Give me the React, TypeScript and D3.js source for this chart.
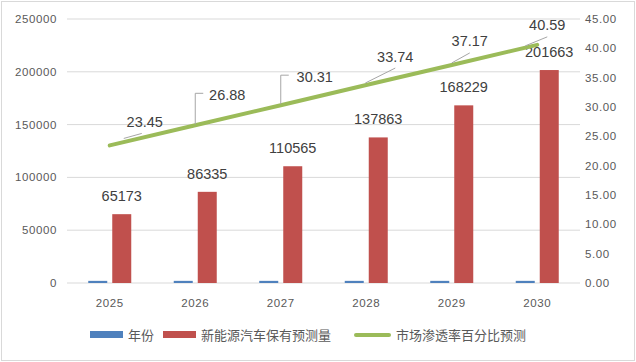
import React from 'react'
import * as d3 from 'd3'

const years = ['2025', '2026', '2027', '2028', '2029', '2030']
const yearValues = [2025, 2026, 2027, 2028, 2029, 2030]
const stockValues = [65173, 86335, 110565, 137863, 168229, 201663]
const rateValues = [23.45, 26.88, 30.31, 33.74, 37.17, 40.59]
const leftTicks = [0, 50000, 100000, 150000, 200000, 250000]
const rightTicks = [0, 5, 10, 15, 20, 25, 30, 35, 40, 45]
const seriesNames = ['年份', '新能源汽车保有预测量', '市场渗透率百分比预测']

const W = 636
const H = 362
const BLUE = '#4F81BD'
const RED = '#C0504D'
const GREEN = '#9BBB59'
const TEXT = '#595959'
const FONT = '"Liberation Sans", "Noto Sans CJK SC", sans-serif'
const CJK = '"Noto Sans CJK SC", sans-serif'

// where each line label sits relative to its point, and how its leader is drawn
const lineLabelOffset = [
  [35, -24], [32, -30], [34, -28], [29, -28], [18, -24], [10, -20],
]
const leaderKind = ['diag', 'elbow', 'elbow', 'diag', 'diag', 'diag']
const leaderDiag = [
  [14, -7, 32, -12], [0, 0, 0, 0], [0, 0, 0, 0], [-1, -2, 29, -17], [0, -2, 18, -12], [-12, 1, 10, -8],
]

export default function App() {
  const x = d3.scaleBand().domain(years).range([67, 580]).paddingInner(0).paddingOuter(0)
  const yL = d3.scaleLinear().domain([0, 250000]).range([283, 19])
  const yR = d3.scaleLinear().domain([0, 45]).range([283, 19])
  const bw = 19
  const gap = 5
  const cx = (d: string) => (x(d) as number) + x.bandwidth() / 2

  const line = d3.line<number>()
    .x((_, i) => cx(years[i]))
    .y(d => yR(d))

  return (
    <svg width={W} height={H} style={{ position: 'absolute', left: 0, top: 0, background: '#fff' }}>
      <rect x={1.5} y={1.5} width={W - 3} height={H - 3} fill="#fff" stroke="#D9D9D9" />
      {/* gridlines */}
      {leftTicks.map(t => (
        <line key={t} x1={67} x2={580} y1={yL(t)} y2={yL(t)} stroke="#D9D9D9" strokeWidth={1} />
      ))}
      {/* left axis labels */}
      {leftTicks.map(t => (
        <text key={'l' + t} x={57} y={yL(t)} dy="0.35em" textAnchor="end" fontSize={11.5} fill={TEXT} fontFamily={FONT} letterSpacing={0.6}>{t}</text>
      ))}
      {/* right axis labels */}
      {rightTicks.map(t => (
        <text key={'r' + t} x={585} y={yR(t)} dy="0.35em" textAnchor="start" fontSize={11.5} fill={TEXT} fontFamily={FONT} letterSpacing={0.6}>{t.toFixed(2)}</text>
      ))}
      {/* x labels */}
      {years.map(d => (
        <text key={'x' + d} x={cx(d)} y={303} dy="0.35em" textAnchor="middle" fontSize={11.5} fill={TEXT} fontFamily={FONT} letterSpacing={0.6}>{d}</text>
      ))}
      {/* year bars */}
      {yearValues.map((v, i) => (
        <rect key={'b' + i} x={cx(years[i]) - gap / 2 - bw} y={yL(v)} width={bw} height={yL(0) - yL(v)} fill={BLUE} />
      ))}
      {/* stock bars */}
      {stockValues.map((v, i) => (
        <rect key={'s' + i} x={cx(years[i]) + gap / 2} y={yL(v)} width={bw} height={yL(0) - yL(v)} fill={RED} />
      ))}
      {stockValues.map((v, i) => (
        <text key={'sl' + i} x={cx(years[i]) + gap / 2 + bw / 2} y={yL(v) - 18} dy="0.35em" textAnchor="middle" fontSize={14.5} fill="#404040" fontFamily={FONT}>{v}</text>
      ))}
      {/* rate line */}
      <path d={line(rateValues) || ''} fill="none" stroke={GREEN} strokeWidth={4} strokeLinecap="round" />
      {rateValues.map((v, i) => {
        const px = cx(years[i])
        const py = yR(v)
        const [dx, dy] = lineLabelOffset[i]
        const lx = px + dx
        const ly = py + dy
        let leader = ''
        if (leaderKind[i] === 'elbow') {
          leader = `M${px},${py - 1}V${ly - 2}H${px + 8}`
        } else {
          const [a, b, c, e] = leaderDiag[i]
          leader = `M${px + a},${py + b}L${px + c},${py + e}`
        }
        return (
          <g key={'rl' + i}>
            <path d={leader} fill="none" stroke="#A6A6A6" strokeWidth={1} />
            <text x={lx} y={ly} dy="0.35em" textAnchor="middle" fontSize={14.5} fill="#404040" fontFamily={FONT}>{v.toFixed(2)}</text>
          </g>
        )
      })}
      {/* legend */}
      <rect x={90} y={331} width={33} height={7} fill={BLUE} />
      <text x={128} y={335} dy="0.35em" fontSize={13} fill={TEXT} fontFamily={CJK}>{seriesNames[0]}</text>
      <rect x={163} y={331} width={33} height={7} fill={RED} />
      <text x={201} y={335} dy="0.35em" fontSize={13} fill={TEXT} fontFamily={CJK}>{seriesNames[1]}</text>
      <line x1={356} x2={389} y1={335} y2={335} stroke={GREEN} strokeWidth={4} strokeLinecap="round" />
      <text x={396} y={335} dy="0.35em" fontSize={13} fill={TEXT} fontFamily={CJK}>{seriesNames[2]}</text>
    </svg>
  )
}
